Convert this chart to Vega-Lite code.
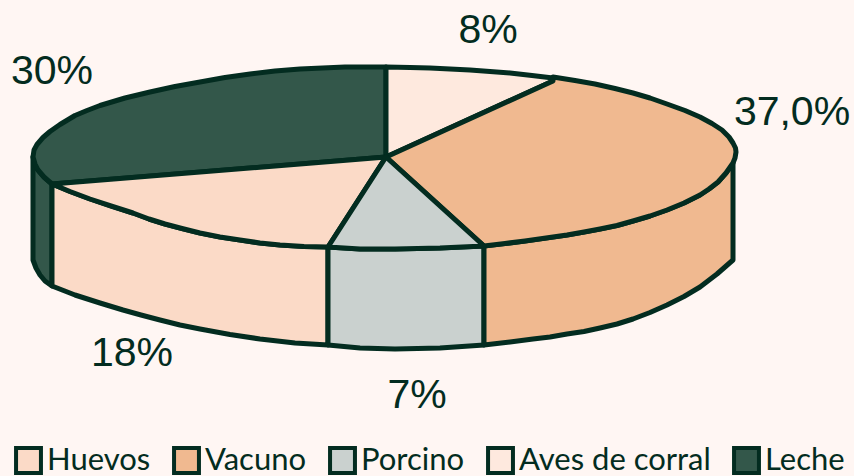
{"$schema":"https://vega.github.io/schema/vega-lite/v6.json","width":854,"height":476,"padding":0,"autosize":{"type":"none"},"background":"#fff6f3","view":{"stroke":null},
"layer":[
{"data":{"values":[
{"p":"1","c":"Leche","i":0,"x":33,"y":157},{"p":"1","c":"Leche","i":1,"x":35,"y":164},{"p":"1","c":"Leche","i":2,"x":38,"y":170},{"p":"1","c":"Leche","i":3,"x":44,"y":177},{"p":"1","c":"Leche","i":4,"x":52,"y":184},{"p":"1","c":"Leche","i":5,"x":52,"y":286},{"p":"1","c":"Leche","i":6,"x":45,"y":281},{"p":"1","c":"Leche","i":7,"x":40,"y":275},{"p":"1","c":"Leche","i":8,"x":36,"y":268},{"p":"1","c":"Leche","i":9,"x":33,"y":260},{"p":"1","c":"Leche","i":10,"x":33,"y":157},
{"p":"2","c":"Huevos","i":0,"x":52,"y":184},{"p":"2","c":"Huevos","i":1,"x":70,"y":191.5},{"p":"2","c":"Huevos","i":2,"x":90,"y":199},{"p":"2","c":"Huevos","i":3,"x":111,"y":206},{"p":"2","c":"Huevos","i":4,"x":133,"y":213},{"p":"2","c":"Huevos","i":5,"x":149,"y":219},{"p":"2","c":"Huevos","i":6,"x":165,"y":224},{"p":"2","c":"Huevos","i":7,"x":182,"y":228.5},{"p":"2","c":"Huevos","i":8,"x":200,"y":233},{"p":"2","c":"Huevos","i":9,"x":220,"y":237},{"p":"2","c":"Huevos","i":10,"x":240,"y":240},{"p":"2","c":"Huevos","i":11,"x":260,"y":243},{"p":"2","c":"Huevos","i":12,"x":280,"y":245},{"p":"2","c":"Huevos","i":13,"x":304,"y":246.5},{"p":"2","c":"Huevos","i":14,"x":328,"y":247},{"p":"2","c":"Huevos","i":15,"x":328,"y":345},{"p":"2","c":"Huevos","i":16,"x":295,"y":343},{"p":"2","c":"Huevos","i":17,"x":260,"y":339},{"p":"2","c":"Huevos","i":18,"x":230,"y":334.5},{"p":"2","c":"Huevos","i":19,"x":200,"y":329},{"p":"2","c":"Huevos","i":20,"x":180,"y":325},{"p":"2","c":"Huevos","i":21,"x":160,"y":320},{"p":"2","c":"Huevos","i":22,"x":141,"y":315},{"p":"2","c":"Huevos","i":23,"x":123,"y":310},{"p":"2","c":"Huevos","i":24,"x":100,"y":303},{"p":"2","c":"Huevos","i":25,"x":75,"y":295},{"p":"2","c":"Huevos","i":26,"x":52,"y":286},{"p":"2","c":"Huevos","i":27,"x":52,"y":184},
{"p":"3","c":"Porcino","i":0,"x":328,"y":247},{"p":"3","c":"Porcino","i":1,"x":360,"y":249},{"p":"3","c":"Porcino","i":2,"x":395,"y":249},{"p":"3","c":"Porcino","i":3,"x":440,"y":248},{"p":"3","c":"Porcino","i":4,"x":484,"y":246},{"p":"3","c":"Porcino","i":5,"x":484,"y":345},{"p":"3","c":"Porcino","i":6,"x":440,"y":348},{"p":"3","c":"Porcino","i":7,"x":395,"y":349},{"p":"3","c":"Porcino","i":8,"x":360,"y":348},{"p":"3","c":"Porcino","i":9,"x":328,"y":345},{"p":"3","c":"Porcino","i":10,"x":328,"y":247},
{"p":"4","c":"Vacuno","i":0,"x":484,"y":246},{"p":"4","c":"Vacuno","i":1,"x":505,"y":243.5},{"p":"4","c":"Vacuno","i":2,"x":525,"y":241},{"p":"4","c":"Vacuno","i":3,"x":546,"y":238},{"p":"4","c":"Vacuno","i":4,"x":567,"y":235},{"p":"4","c":"Vacuno","i":5,"x":584,"y":232},{"p":"4","c":"Vacuno","i":6,"x":600,"y":229},{"p":"4","c":"Vacuno","i":7,"x":617,"y":225.5},{"p":"4","c":"Vacuno","i":8,"x":633,"y":221},{"p":"4","c":"Vacuno","i":9,"x":650,"y":216},{"p":"4","c":"Vacuno","i":10,"x":667,"y":210},{"p":"4","c":"Vacuno","i":11,"x":684,"y":203},{"p":"4","c":"Vacuno","i":12,"x":700,"y":195},{"p":"4","c":"Vacuno","i":13,"x":709,"y":189},{"p":"4","c":"Vacuno","i":14,"x":718,"y":182},{"p":"4","c":"Vacuno","i":15,"x":726,"y":173},{"p":"4","c":"Vacuno","i":16,"x":733,"y":163},{"p":"4","c":"Vacuno","i":17,"x":733,"y":260},{"p":"4","c":"Vacuno","i":18,"x":717,"y":274},{"p":"4","c":"Vacuno","i":19,"x":700,"y":287},{"p":"4","c":"Vacuno","i":20,"x":684,"y":296.5},{"p":"4","c":"Vacuno","i":21,"x":667,"y":305},{"p":"4","c":"Vacuno","i":22,"x":650,"y":312.5},{"p":"4","c":"Vacuno","i":23,"x":633,"y":319},{"p":"4","c":"Vacuno","i":24,"x":617,"y":324},{"p":"4","c":"Vacuno","i":25,"x":600,"y":328},{"p":"4","c":"Vacuno","i":26,"x":584,"y":331.5},{"p":"4","c":"Vacuno","i":27,"x":567,"y":334},{"p":"4","c":"Vacuno","i":28,"x":550,"y":337},{"p":"4","c":"Vacuno","i":29,"x":533,"y":339},{"p":"4","c":"Vacuno","i":30,"x":510,"y":342},{"p":"4","c":"Vacuno","i":31,"x":484,"y":345},{"p":"4","c":"Vacuno","i":32,"x":484,"y":246},
{"p":"5","c":"Leche","i":0,"x":386,"y":157},{"p":"5","c":"Leche","i":1,"x":52,"y":184},{"p":"5","c":"Leche","i":2,"x":44,"y":177},{"p":"5","c":"Leche","i":3,"x":38,"y":170},{"p":"5","c":"Leche","i":4,"x":35,"y":164},{"p":"5","c":"Leche","i":5,"x":33,"y":157},{"p":"5","c":"Leche","i":6,"x":34,"y":150},{"p":"5","c":"Leche","i":7,"x":37,"y":144.5},{"p":"5","c":"Leche","i":8,"x":43,"y":137.5},{"p":"5","c":"Leche","i":9,"x":50,"y":131.5},{"p":"5","c":"Leche","i":10,"x":60,"y":124.5},{"p":"5","c":"Leche","i":11,"x":75,"y":115.5},{"p":"5","c":"Leche","i":12,"x":87,"y":110.5},{"p":"5","c":"Leche","i":13,"x":100,"y":105.5},{"p":"5","c":"Leche","i":14,"x":125,"y":98},{"p":"5","c":"Leche","i":15,"x":150,"y":92},{"p":"5","c":"Leche","i":16,"x":175,"y":86.5},{"p":"5","c":"Leche","i":17,"x":200,"y":82},{"p":"5","c":"Leche","i":18,"x":225,"y":77.5},{"p":"5","c":"Leche","i":19,"x":250,"y":74},{"p":"5","c":"Leche","i":20,"x":275,"y":71},{"p":"5","c":"Leche","i":21,"x":300,"y":69},{"p":"5","c":"Leche","i":22,"x":345,"y":67},{"p":"5","c":"Leche","i":23,"x":386,"y":67},{"p":"5","c":"Leche","i":24,"x":386,"y":157},
{"p":"6","c":"Aves de corral","i":0,"x":386,"y":157},{"p":"6","c":"Aves de corral","i":1,"x":386,"y":67},{"p":"6","c":"Aves de corral","i":2,"x":410,"y":67.5},{"p":"6","c":"Aves de corral","i":3,"x":430,"y":68},{"p":"6","c":"Aves de corral","i":4,"x":450,"y":69},{"p":"6","c":"Aves de corral","i":5,"x":470,"y":70},{"p":"6","c":"Aves de corral","i":6,"x":490,"y":71.5},{"p":"6","c":"Aves de corral","i":7,"x":510,"y":73},{"p":"6","c":"Aves de corral","i":8,"x":532,"y":75.5},{"p":"6","c":"Aves de corral","i":9,"x":553,"y":78},{"p":"6","c":"Aves de corral","i":10,"x":553,"y":81},{"p":"6","c":"Aves de corral","i":11,"x":386,"y":157},
{"p":"7","c":"Vacuno","i":0,"x":386,"y":157},{"p":"7","c":"Vacuno","i":1,"x":553,"y":81},{"p":"7","c":"Vacuno","i":2,"x":553,"y":77},{"p":"7","c":"Vacuno","i":3,"x":575,"y":80.5},{"p":"7","c":"Vacuno","i":4,"x":595,"y":84},{"p":"7","c":"Vacuno","i":5,"x":615,"y":88.5},{"p":"7","c":"Vacuno","i":6,"x":633,"y":93},{"p":"7","c":"Vacuno","i":7,"x":650,"y":98},{"p":"7","c":"Vacuno","i":8,"x":667,"y":104},{"p":"7","c":"Vacuno","i":9,"x":685,"y":110.5},{"p":"7","c":"Vacuno","i":10,"x":700,"y":117},{"p":"7","c":"Vacuno","i":11,"x":712,"y":123.5},{"p":"7","c":"Vacuno","i":12,"x":722,"y":130},{"p":"7","c":"Vacuno","i":13,"x":729,"y":137},{"p":"7","c":"Vacuno","i":14,"x":733,"y":143},{"p":"7","c":"Vacuno","i":15,"x":735.5,"y":148},{"p":"7","c":"Vacuno","i":16,"x":736,"y":152},{"p":"7","c":"Vacuno","i":17,"x":735,"y":158},{"p":"7","c":"Vacuno","i":18,"x":733,"y":163},{"p":"7","c":"Vacuno","i":19,"x":726,"y":173},{"p":"7","c":"Vacuno","i":20,"x":718,"y":182},{"p":"7","c":"Vacuno","i":21,"x":709,"y":189},{"p":"7","c":"Vacuno","i":22,"x":700,"y":195},{"p":"7","c":"Vacuno","i":23,"x":684,"y":203},{"p":"7","c":"Vacuno","i":24,"x":667,"y":210},{"p":"7","c":"Vacuno","i":25,"x":650,"y":216},{"p":"7","c":"Vacuno","i":26,"x":633,"y":221},{"p":"7","c":"Vacuno","i":27,"x":617,"y":225.5},{"p":"7","c":"Vacuno","i":28,"x":600,"y":229},{"p":"7","c":"Vacuno","i":29,"x":584,"y":232},{"p":"7","c":"Vacuno","i":30,"x":567,"y":235},{"p":"7","c":"Vacuno","i":31,"x":546,"y":238},{"p":"7","c":"Vacuno","i":32,"x":525,"y":241},{"p":"7","c":"Vacuno","i":33,"x":505,"y":243.5},{"p":"7","c":"Vacuno","i":34,"x":484,"y":246},{"p":"7","c":"Vacuno","i":35,"x":386,"y":157},
{"p":"8","c":"Huevos","i":0,"x":386,"y":157},{"p":"8","c":"Huevos","i":1,"x":328,"y":247},{"p":"8","c":"Huevos","i":2,"x":304,"y":246.5},{"p":"8","c":"Huevos","i":3,"x":280,"y":245},{"p":"8","c":"Huevos","i":4,"x":260,"y":243},{"p":"8","c":"Huevos","i":5,"x":240,"y":240},{"p":"8","c":"Huevos","i":6,"x":220,"y":237},{"p":"8","c":"Huevos","i":7,"x":200,"y":233},{"p":"8","c":"Huevos","i":8,"x":182,"y":228.5},{"p":"8","c":"Huevos","i":9,"x":165,"y":224},{"p":"8","c":"Huevos","i":10,"x":149,"y":219},{"p":"8","c":"Huevos","i":11,"x":133,"y":213},{"p":"8","c":"Huevos","i":12,"x":111,"y":206},{"p":"8","c":"Huevos","i":13,"x":90,"y":199},{"p":"8","c":"Huevos","i":14,"x":70,"y":191.5},{"p":"8","c":"Huevos","i":15,"x":52,"y":184},{"p":"8","c":"Huevos","i":16,"x":386,"y":157},
{"p":"9","c":"Porcino","i":0,"x":386,"y":157},{"p":"9","c":"Porcino","i":1,"x":484,"y":246},{"p":"9","c":"Porcino","i":2,"x":440,"y":248},{"p":"9","c":"Porcino","i":3,"x":395,"y":249},{"p":"9","c":"Porcino","i":4,"x":360,"y":249},{"p":"9","c":"Porcino","i":5,"x":328,"y":247},{"p":"9","c":"Porcino","i":6,"x":386,"y":157}
]},
"mark":{"type":"line","stroke":"#032c20","strokeWidth":5,"strokeJoin":"round","strokeCap":"round","interpolate":"linear"},
"encoding":{
"x":{"field":"x","type":"quantitative","scale":{"domain":[0,854],"nice":false,"zero":false},"axis":null},
"y":{"field":"y","type":"quantitative","scale":{"domain":[476,0],"nice":false,"zero":false},"axis":null},
"order":{"field":"i","type":"ordinal"},
"detail":{"field":"p","type":"nominal"},
"fill":{"field":"c","type":"nominal","sort":null,"scale":{"domain":["Huevos","Vacuno","Porcino","Aves de corral","Leche"],"range":["#fbdac7","#f0b990","#cad1cf","#fee9de","#33574a"]},
"legend":{"title":null,"orient":"none","legendX":13,"legendY":445,"direction":"horizontal","columns":5,"columnPadding":15,"symbolType":"square","symbolSize":620,"symbolStrokeColor":"#032c20","symbolStrokeWidth":4,"symbolOpacity":1,"labelFont":"Lato","labelFontSize":31,"labelColor":"#032c20","labelOffset":3,"labelLimit":300}}
}},
{"data":{"values":[
{"t":"8%","c":"Aves de corral","x":488,"y":31},{"t":"37,0%","c":"Vacuno","x":792,"y":113},{"t":"7%","c":"Porcino","x":417,"y":396},{"t":"18%","c":"Huevos","x":132,"y":354},{"t":"30%","c":"Leche","x":52,"y":72}
]},
"mark":{"type":"text","font":"Liberation Sans","fontSize":41,"color":"#032c20","align":"center","baseline":"middle"},
"encoding":{
"x":{"field":"x","type":"quantitative","scale":{"domain":[0,854],"nice":false,"zero":false},"axis":null},
"y":{"field":"y","type":"quantitative","scale":{"domain":[476,0],"nice":false,"zero":false},"axis":null},
"text":{"field":"t","type":"nominal"}
}}
]}
